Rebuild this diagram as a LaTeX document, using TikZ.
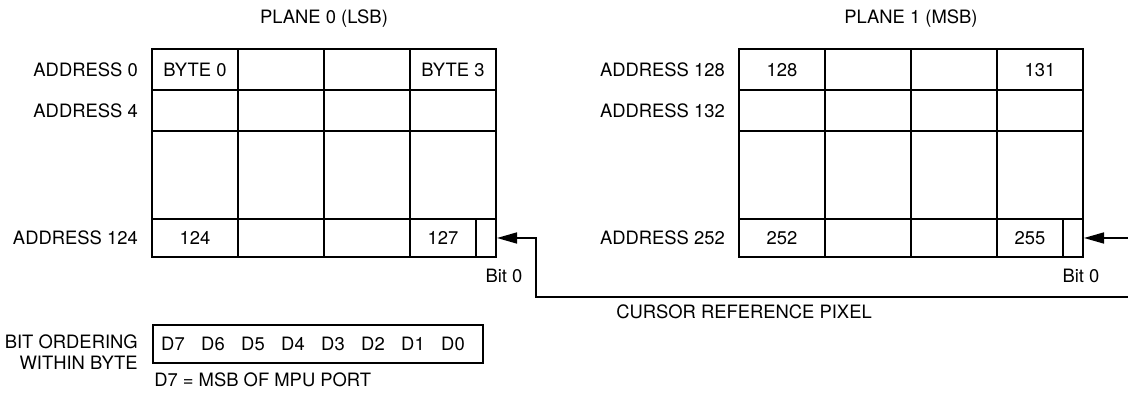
\documentclass[tikz,border=0pt]{standalone}
\usepackage{fontspec}
\setmainfont{TeX Gyre Heros}
\usetikzlibrary{arrows.meta}

\begin{document}
\begin{tikzpicture}[x=1pt, y=1pt, line width=2.5pt,
  txt/.style={font=\fontsize{18.4}{21}\selectfont, inner sep=0pt,
    text height=13.2pt, text depth=0pt},
  bitbox/.style={draw, line width=2pt, inner sep=0pt,
    minimum width=20pt, minimum height=38pt},
  ptr/.style={line width=1.6pt, -{Triangle[length=20pt, width=11pt]}}]
  \useasboundingbox (0,0) rectangle (1128,393);
  % two planes, same grid
  \foreach \dx in {0,587} {
    \draw (152+\dx,136) rectangle (496+\dx,344);
    \foreach \x in {238,324,410} \draw (\x+\dx,136) -- (\x+\dx,344);
    \foreach \y in {174,262,303} \draw (152+\dx,\y) -- (496+\dx,\y);
  }
  \node[txt] (plane0) at (324,376) {PLANE 0 (LSB)};
  \node[txt] (plane1) at (911,376) {PLANE 1 (MSB)};
  \node[txt, anchor=east] (addr0) at (139,323.5) {ADDRESS 0};
  \node[txt, anchor=east] (addr4) at (139,282.5) {ADDRESS 4};
  \node[txt, anchor=east] (addr124) at (139,155) {ADDRESS 124};
  \node[txt, anchor=east] (addr128) at (726,323.5) {ADDRESS 128};
  \node[txt, anchor=east] (addr132) at (726,282.5) {ADDRESS 132};
  \node[txt, anchor=east] (addr252) at (726,155) {ADDRESS 252};
  \node[txt] (byte0) at (195,323.5) {BYTE 0};
  \node[txt] (byte3) at (453,323.5) {BYTE 3};
  \node[txt] (c124) at (195,155) {124};
  \node[txt] (c127) at (443,155) {127};
  \node[txt] (c128) at (782,323.5) {128};
  \node[txt] (c131) at (1040,323.5) {131};
  \node[txt] (c252) at (782,155) {252};
  \node[txt] (c255) at (1030,155) {255};
  \node[bitbox] (bitL) at (486,155) {};
  \node[bitbox] (bitR) at (1073,155) {};
  \node[txt] (bit0L) at (504,117) {Bit 0};
  \node[txt] (bit0R) at (1081,117) {Bit 0};
  % cursor reference pixel
  \coordinate (turn) at (536,96);
  \coordinate (edgeLo) at (1140,96);
  \coordinate (edgeHi) at (1140,155);
  \draw[ptr] (edgeLo) -- (turn) |- (bitL.east);
  \draw[ptr] (edgeHi) -- (bitR.east);
  \node[txt, anchor=west] (cursor) at (615,81) {CURSOR REFERENCE PIXEL};
  % bit ordering
  \node[draw, minimum width=330pt, minimum height=38pt] (order) at (318,49) {};
  \foreach \d [count=\i from 0] in {7,6,5,4,3,2,1,0}
    \node[txt] (d\d) at (173+40*\i,49) {D\d};
  \node[txt, anchor=east] (ordering) at (139,51) {BIT ORDERING};
  \node[txt, anchor=east] (within) at (139,30) {WITHIN BYTE};
  \node[txt, anchor=west] (msb) at (153,13) {D7 = MSB OF MPU PORT};
\end{tikzpicture}
\end{document}
